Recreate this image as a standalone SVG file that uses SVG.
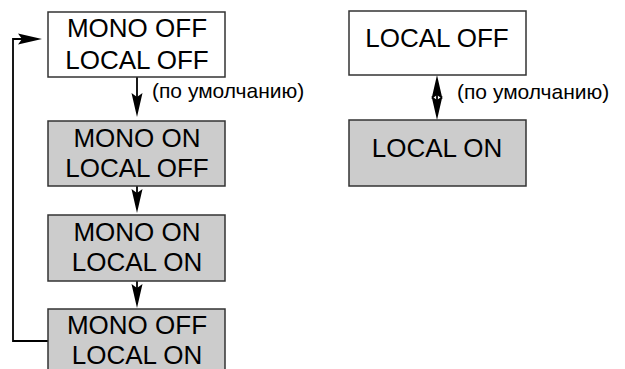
<svg xmlns="http://www.w3.org/2000/svg" width="625" height="369" viewBox="0 0 625 369">
  <defs>
    <marker id="arr" markerUnits="userSpaceOnUse" markerWidth="26" markerHeight="12" viewBox="-25 -6 26 12" refX="-5" refY="0" orient="auto-start-reverse">
      <path d="M0,0 L-24,-5.5 L-20,0 L-24,5.5 Z" fill="#000"/>
    </marker>
    <style>
      .box { stroke: #333; stroke-width: 1.5; }
      .off { fill: #fff; }
      .on { fill: #cccccc; }
      .t { font-family: "Liberation Sans", Arial, Helvetica, sans-serif; font-size: 26px; fill: #000; text-anchor: middle; }
      .lbl { font-family: "Liberation Sans", Arial, Helvetica, sans-serif; font-size: 21px; fill: #000; }
      .c { stroke: #000; stroke-width: 1.8; fill: none; }
    </style>
  </defs>
  <rect width="625" height="369" fill="#fff"/>

  <g id="connectors">
    <line class="c" x1="137" y1="77" x2="137" y2="112" marker-end="url(#arr)"/>
    <line class="c" x1="137" y1="186" x2="137" y2="208" marker-end="url(#arr)"/>
    <line class="c" x1="137" y1="281" x2="137" y2="303" marker-end="url(#arr)"/>
    <polyline class="c" points="48,341 13,341 13,39 37,39" marker-end="url(#arr)"/>
    <line class="c" x1="437" y1="80" x2="437" y2="115" marker-start="url(#arr)" marker-end="url(#arr)"/>
    <text class="lbl" x="152" y="98">(по умолчанию)</text>
    <text class="lbl" x="457" y="99">(по умолчанию)</text>
  </g>

  <g id="mono-off-local-off">
    <rect class="box off" x="48" y="12" width="177" height="65"/>
    <text class="t" x="137" y="37">MONO OFF</text>
    <text class="t" x="137" y="69">LOCAL OFF</text>
  </g>
  <g id="mono-on-local-off">
    <rect class="box on" x="48" y="121" width="177" height="65"/>
    <text class="t" x="137" y="147">MONO ON</text>
    <text class="t" x="137" y="177">LOCAL OFF</text>
  </g>
  <g id="mono-on-local-on">
    <rect class="box on" x="48" y="215" width="177" height="66"/>
    <text class="t" x="137" y="241">MONO ON</text>
    <text class="t" x="137" y="271">LOCAL ON</text>
  </g>
  <g id="mono-off-local-on">
    <rect class="box on" x="48" y="309" width="177" height="66"/>
    <text class="t" x="137" y="334">MONO OFF</text>
    <text class="t" x="137" y="364">LOCAL ON</text>
  </g>

  <g id="local-off">
    <rect class="box off" x="349" y="11" width="177" height="64"/>
    <text class="t" x="437" y="47">LOCAL OFF</text>
  </g>
  <g id="local-on">
    <rect class="box on" x="349" y="120" width="177" height="66"/>
    <text class="t" x="437" y="157">LOCAL ON</text>
  </g>
</svg>
